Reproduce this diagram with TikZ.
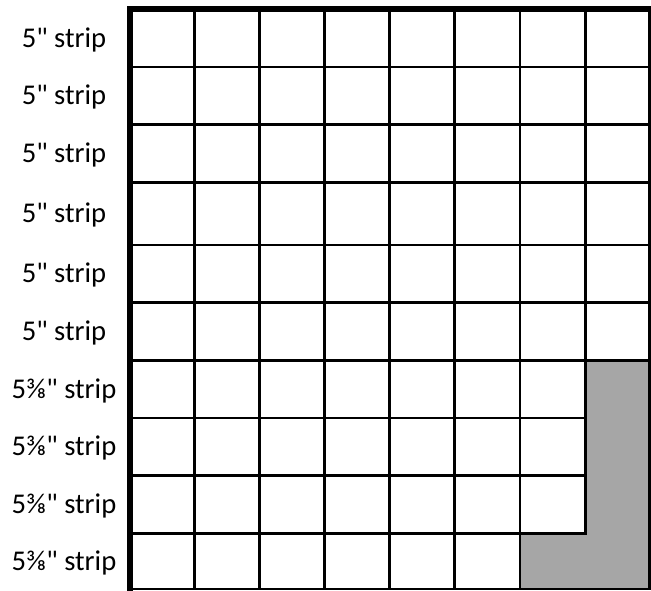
\documentclass[tikz,border=0pt]{standalone}
\usepackage{fontspec}
\setmainfont{Carlito}
\usepackage{tikz}

\newcommand{\inch}{\textquotedbl}

\begin{document}
\begin{tikzpicture}[x=1pt, y=-1pt,
      lab/.style={font=\fontsize{28.6}{34}\selectfont, anchor=base, inner sep=0pt},
      grid/.style={line width=2.9pt, black},
      border/.style={line width=5.8pt, black, line cap=rect},
      cut/.style={fill=black!35}
    ]
    \useasboundingbox (0,0) rectangle (651,590);

    % cut-away corner (shaded)
    \fill[cut] (520,533.7) -- (585.7,533.7) -- (585.7,360.3) -- (649.5,360.3)
      -- (649.5,589) -- (520,589) -- cycle;

    % strip seams
    \draw[grid] (129.7,67)    -- (649.5,67);
    \draw[grid] (129.7,124.3) -- (649.5,124.3);
    \draw[grid] (129.7,182.3) -- (649.5,182.3);
    \draw[grid] (129.7,245)   -- (649.5,245);
    \draw[grid] (129.7,302.7) -- (649.5,302.7);
    \draw[grid] (129.7,360.3) -- (649.5,360.3);
    \draw[grid] (129.7,418)   -- (587.1,418);
    \draw[grid] (129.7,475.3) -- (587.1,475.3);
    \draw[grid] (129.7,533.7) -- (587.1,533.7);

    % block seams
    \draw[grid] (194.7,9) -- (194.7,589);
    \draw[grid] (259.7,9) -- (259.7,589);
    \draw[grid] (324.7,9) -- (324.7,589);
    \draw[grid] (389.7,9) -- (389.7,589);
    \draw[grid] (454.7,9) -- (454.7,589);
    \draw[grid] (520,9)   -- (520,589);
    \draw[grid] (585.7,9) -- (585.7,535.1);

    % outer edge
    \draw[grid, line cap=rect] (129.7,589) -- (649.5,589) -- (649.5,9);
    \draw[border] (129.7,589) -- (129.7,9) -- (649.5,9);

    % strip widths
    \node[lab] (s1)  at (64,47)    {5\inch{} strip};
    \node[lab] (s2)  at (64,104.7) {5\inch{} strip};
    \node[lab] (s3)  at (64,162.3) {5\inch{} strip};
    \node[lab] (s4)  at (64,222.7) {5\inch{} strip};
    \node[lab] (s5)  at (64,282.8) {5\inch{} strip};
    \node[lab] (s6)  at (64,340.5) {5\inch{} strip};
    \node[lab] (s7)  at (64,398.2) {5⅜\inch{} strip};
    \node[lab] (s8)  at (64,455.7) {5⅜\inch{} strip};
    \node[lab] (s9)  at (64,513.5) {5⅜\inch{} strip};
    \node[lab] (s10) at (64,570.3) {5⅜\inch{} strip};
  \end{tikzpicture}
\end{document}
